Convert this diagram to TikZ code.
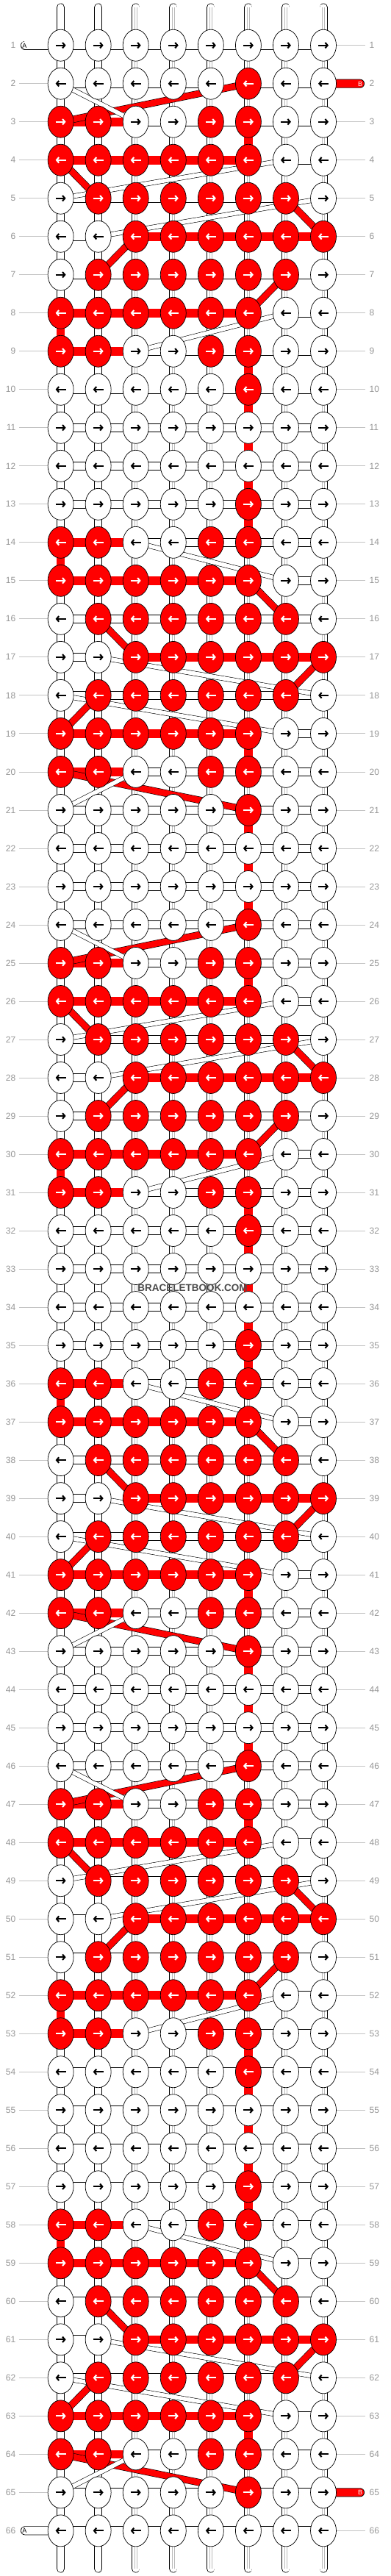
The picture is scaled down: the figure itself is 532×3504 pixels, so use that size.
\documentclass[tikz,border=0pt]{standalone}
\usepackage{fontspec}
\setmainfont{Liberation Sans}
\usetikzlibrary{arrows.meta,shapes.geometric}

\definecolor{knotred}{RGB}{255,0,0}
\definecolor{labelgray}{RGB}{150,150,150}
\definecolor{linegray}{RGB}{195,195,195}
\definecolor{stripegray}{RGB}{185,185,185}
\definecolor{logogray}{RGB}{75,75,75}

\pgfdeclarelayer{paper}
\pgfdeclarelayer{links}
\pgfdeclarelayer{bands}
\pgfsetlayers{paper,links,bands,main}

% Knot colours of the eleven repeating rows (1 = red)
\def\knotpat{{0,0,0,0,0,1,0,0,%
1,1,0,0,1,1,0,0,%
1,1,1,1,1,1,0,0,%
0,1,1,1,1,1,1,0,%
0,0,1,1,1,1,1,1,%
0,1,1,1,1,1,1,0,%
1,1,1,1,1,1,0,0,%
1,1,0,0,1,1,0,0,%
0,0,0,0,0,1,0,0,%
0,0,0,0,0,0,0,0,%
0,0,0,0,0,0,0,0}}

% Links between neighbouring knots (0 none, 1 white, 2 red)
\def\linkpat{{1,1,1,1,1,1,1,%
2,2,1,1,1,1,1,%
2,2,2,2,2,0,1,%
1,1,1,1,1,1,1,%
1,0,2,2,2,2,2,%
1,1,1,1,1,1,1,%
2,2,2,2,2,0,1,%
2,2,1,1,1,1,1,%
1,1,1,1,1,1,1,%
1,1,1,1,1,1,1,%
1,1,1,1,1,1,1}}

\tikzset{
  knot/.style={ellipse,draw,line width=0.7pt,minimum width=35pt,minimum height=43pt,inner sep=0pt},
  redknot/.style={knot,fill=knotred},
  whiteknot/.style={knot,fill=white},
  knotarrow/.style={line width=2.1pt,-{Straight Barb[length=3.2pt,width=7.5pt]}},
  tube/.style={draw=black,line width=0.7pt,double=white,double distance=9.6pt,line cap=round},
  stripe/.style={draw=stripegray,line width=0.6pt,double=white,double distance=2.4pt},
  whitelink/.style={draw=black,line width=0.7pt,double=white,double distance=10.6pt},
  redlink/.style={draw=knotred,line width=11.6pt},
  redband/.style={draw=black,line width=0.6pt,double=knotred,double distance=8.4pt},
  whiteband/.style={draw=black,line width=0.6pt,double=white,double distance=5.6pt},
  atube/.style={draw=black,line width=0.7pt,double=white,double distance=10.6pt,line cap=round},
  btube/.style={draw=black,line width=0.7pt,double=knotred,double distance=10.6pt,line cap=round},
  rowlabel/.style={text=labelgray,font=\fontsize{12}{12}\selectfont,inner sep=0pt},
  labelline/.style={draw=linegray,line width=0.8pt},
  endlabel/.style={font=\fontsize{9}{9}\selectfont,inner sep=0pt}
}

\begin{document}
\begin{tikzpicture}[x=1pt,y=-1pt]
\useasboundingbox (0,0) rectangle (532,3504);

% Paper and the eight base strings
\begin{pgfonlayer}{paper}
\fill[white] (0,0) rectangle (532,3504);
\foreach \c in {1,...,8}{
  \pgfmathsetmacro\xx{82.6+51.06*(\c-1)}
  \coordinate (top-\c) at (\xx,10);
  \coordinate (bot-\c) at (\xx,3494);
  \draw[tube] (top-\c) -- (bot-\c);
  \draw[stripe] (top-\c) -- (bot-\c);
}
\end{pgfonlayer}

% Knots, row by row
\foreach \r in {1,...,66}{
  \pgfmathtruncatemacro\pidx{\r==1 ? 9 : mod(\r-2,11)}
  \pgfmathsetmacro\yy{61.7+52.01*(\r-1)}
  \pgfmathtruncatemacro\dir{mod(\r,2)}
  \foreach \c in {1,...,8}{
    \pgfmathsetmacro\xx{82.6+51.06*(\c-1)}
    \pgfmathtruncatemacro\isred{\knotpat[\pidx*8+\c-1]}
    \ifnum\isred=1
      \node[redknot] (k-\r-\c) at (\xx,\yy) {};
      \def\arrcol{white}
    \else
      \node[whiteknot] (k-\r-\c) at (\xx,\yy) {};
      \def\arrcol{black}
    \fi
    \ifnum\dir=1
      \draw[knotarrow,draw=\arrcol] ([xshift=-7pt]k-\r-\c.center) -- ([xshift=7pt]k-\r-\c.center);
    \else
      \draw[knotarrow,draw=\arrcol] ([xshift=7pt]k-\r-\c.center) -- ([xshift=-7pt]k-\r-\c.center);
    \fi
  }
  % Row numbers on both sides
  \node[rowlabel,anchor=east] (n-l-\r) at (21.5,\yy) {\r};
  \node[rowlabel,anchor=west] (n-r-\r) at (502.5,\yy) {\r};
}

\begin{pgfonlayer}{links}
% Links along each row
\foreach \r in {1,...,66}{
  \pgfmathtruncatemacro\pidx{\r==1 ? 9 : mod(\r-2,11)}
  \foreach \g in {1,...,7}{
    \pgfmathtruncatemacro\h{\g+1}
    \pgfmathtruncatemacro\lk{\linkpat[\pidx*7+\g-1]}
    \ifcase\lk
    \or \draw[whitelink] (k-\r-\g.center) -- (k-\r-\h.center);
    \or \draw[redlink] (k-\r-\g.center) -- (k-\r-\h.center);
    \fi
  }
}

% Red string going straight down
\foreach \s in {2,24,46}{
  \foreach \i/\c in {1/6,6/1,7/6,8/6,9/6,10/6}{
    \pgfmathtruncatemacro\ra{\s+\i}
    \pgfmathtruncatemacro\rb{\s+\i+1}
    \draw[redlink,line width=11.4pt] (k-\ra-\c.center) -- (k-\rb-\c.center);
  }
}
\foreach \s in {13,35,57}{
  \foreach \i/\c in {0/6,1/1,6/6}{
    \pgfmathtruncatemacro\ra{\s+\i}
    \pgfmathtruncatemacro\rb{\s+\i+1}
    \draw[redlink,line width=11.4pt] (k-\ra-\c.center) -- (k-\rb-\c.center);
  }
}
\foreach \s in {13,35}{
  \foreach \i/\c in {8/6,9/6,10/6}{
    \pgfmathtruncatemacro\ra{\s+\i}
    \pgfmathtruncatemacro\rb{\s+\i+1}
    \draw[redlink,line width=11.4pt] (k-\ra-\c.center) -- (k-\rb-\c.center);
  }
}

% Guide lines to the row numbers
\foreach \r in {2,...,65}{
  \pgfmathsetmacro\yy{61.7+52.01*(\r-1)}
  \coordinate (ll-\r) at (26,\yy);
  \draw[labelline] (ll-\r) -- (k-\r-1.west);
}
\foreach \r in {1,3,4,...,64,66}{
  \pgfmathsetmacro\yy{61.7+52.01*(\r-1)}
  \coordinate (lr-\r) at (497,\yy);
  \draw[labelline] (k-\r-8.east) -- (lr-\r);
}

% Loose ends of strings A and B
\coordinate (A-in) at (34,61.7);
\coordinate (A-out) at (34,3442.3);
\coordinate (B-in) at (490,113.7);
\coordinate (B-out) at (490,3390.3);
\draw[atube] (A-in) -- (k-1-1.center);
\draw[atube] (A-out) -- (k-66-1.center);
\draw[btube] (B-in) -- (k-2-8.center);
\draw[btube] (B-out) -- (k-65-8.center);
\end{pgfonlayer}
\node[endlabel] (A-lbl-in) at (33.5,62) {A};
\node[endlabel] (A-lbl-out) at (33.5,3442.6) {A};
\node[endlabel,text=white] (B-lbl-in) at (490,114) {B};
\node[endlabel,text=white] (B-lbl-out) at (490,3390.6) {B};

\begin{pgfonlayer}{bands}
% Red string jumping between rows
\foreach \s in {2,24,46}{
  \foreach \i/\a/\b in {0/6/1,2/1/2,3/7/8,4/3/2,5/7/6}{
    \pgfmathtruncatemacro\ra{\s+\i}
    \pgfmathtruncatemacro\rb{\s+\i+1}
    \draw[redband] (k-\ra-\a.center) -- (k-\rb-\b.center);
  }
}
\foreach \s in {13,35,57}{
  \foreach \i/\a/\b in {2/6/7,3/2/3,4/8/7,5/2/1,7/1/6}{
    \pgfmathtruncatemacro\ra{\s+\i}
    \pgfmathtruncatemacro\rb{\s+\i+1}
    \draw[redband] (k-\ra-\a.center) -- (k-\rb-\b.center);
  }
}
% White string jumping between rows
\foreach \s in {2,24,46}{
  \foreach \i/\a/\b in {0/1/3,2/7/1,3/8/2,6/7/3}{
    \pgfmathtruncatemacro\ra{\s+\i}
    \pgfmathtruncatemacro\rb{\s+\i+1}
    \draw[whiteband] (k-\ra-\a.center) -- (k-\rb-\b.center);
  }
}
\foreach \s in {13,35,57}{
  \foreach \i/\a/\b in {1/3/7,4/2/8,5/1/7,7/3/1}{
    \pgfmathtruncatemacro\ra{\s+\i}
    \pgfmathtruncatemacro\rb{\s+\i+1}
    \draw[whiteband] (k-\ra-\a.center) -- (k-\rb-\b.center);
  }
}
\end{pgfonlayer}

% Site name
\node[font=\bfseries\fontsize{13.5}{13.5}\selectfont,text=logogray,inner sep=0pt] (logo) at (262,1752) {BRACELETBOOK.COM};
\end{tikzpicture}
\end{document}
